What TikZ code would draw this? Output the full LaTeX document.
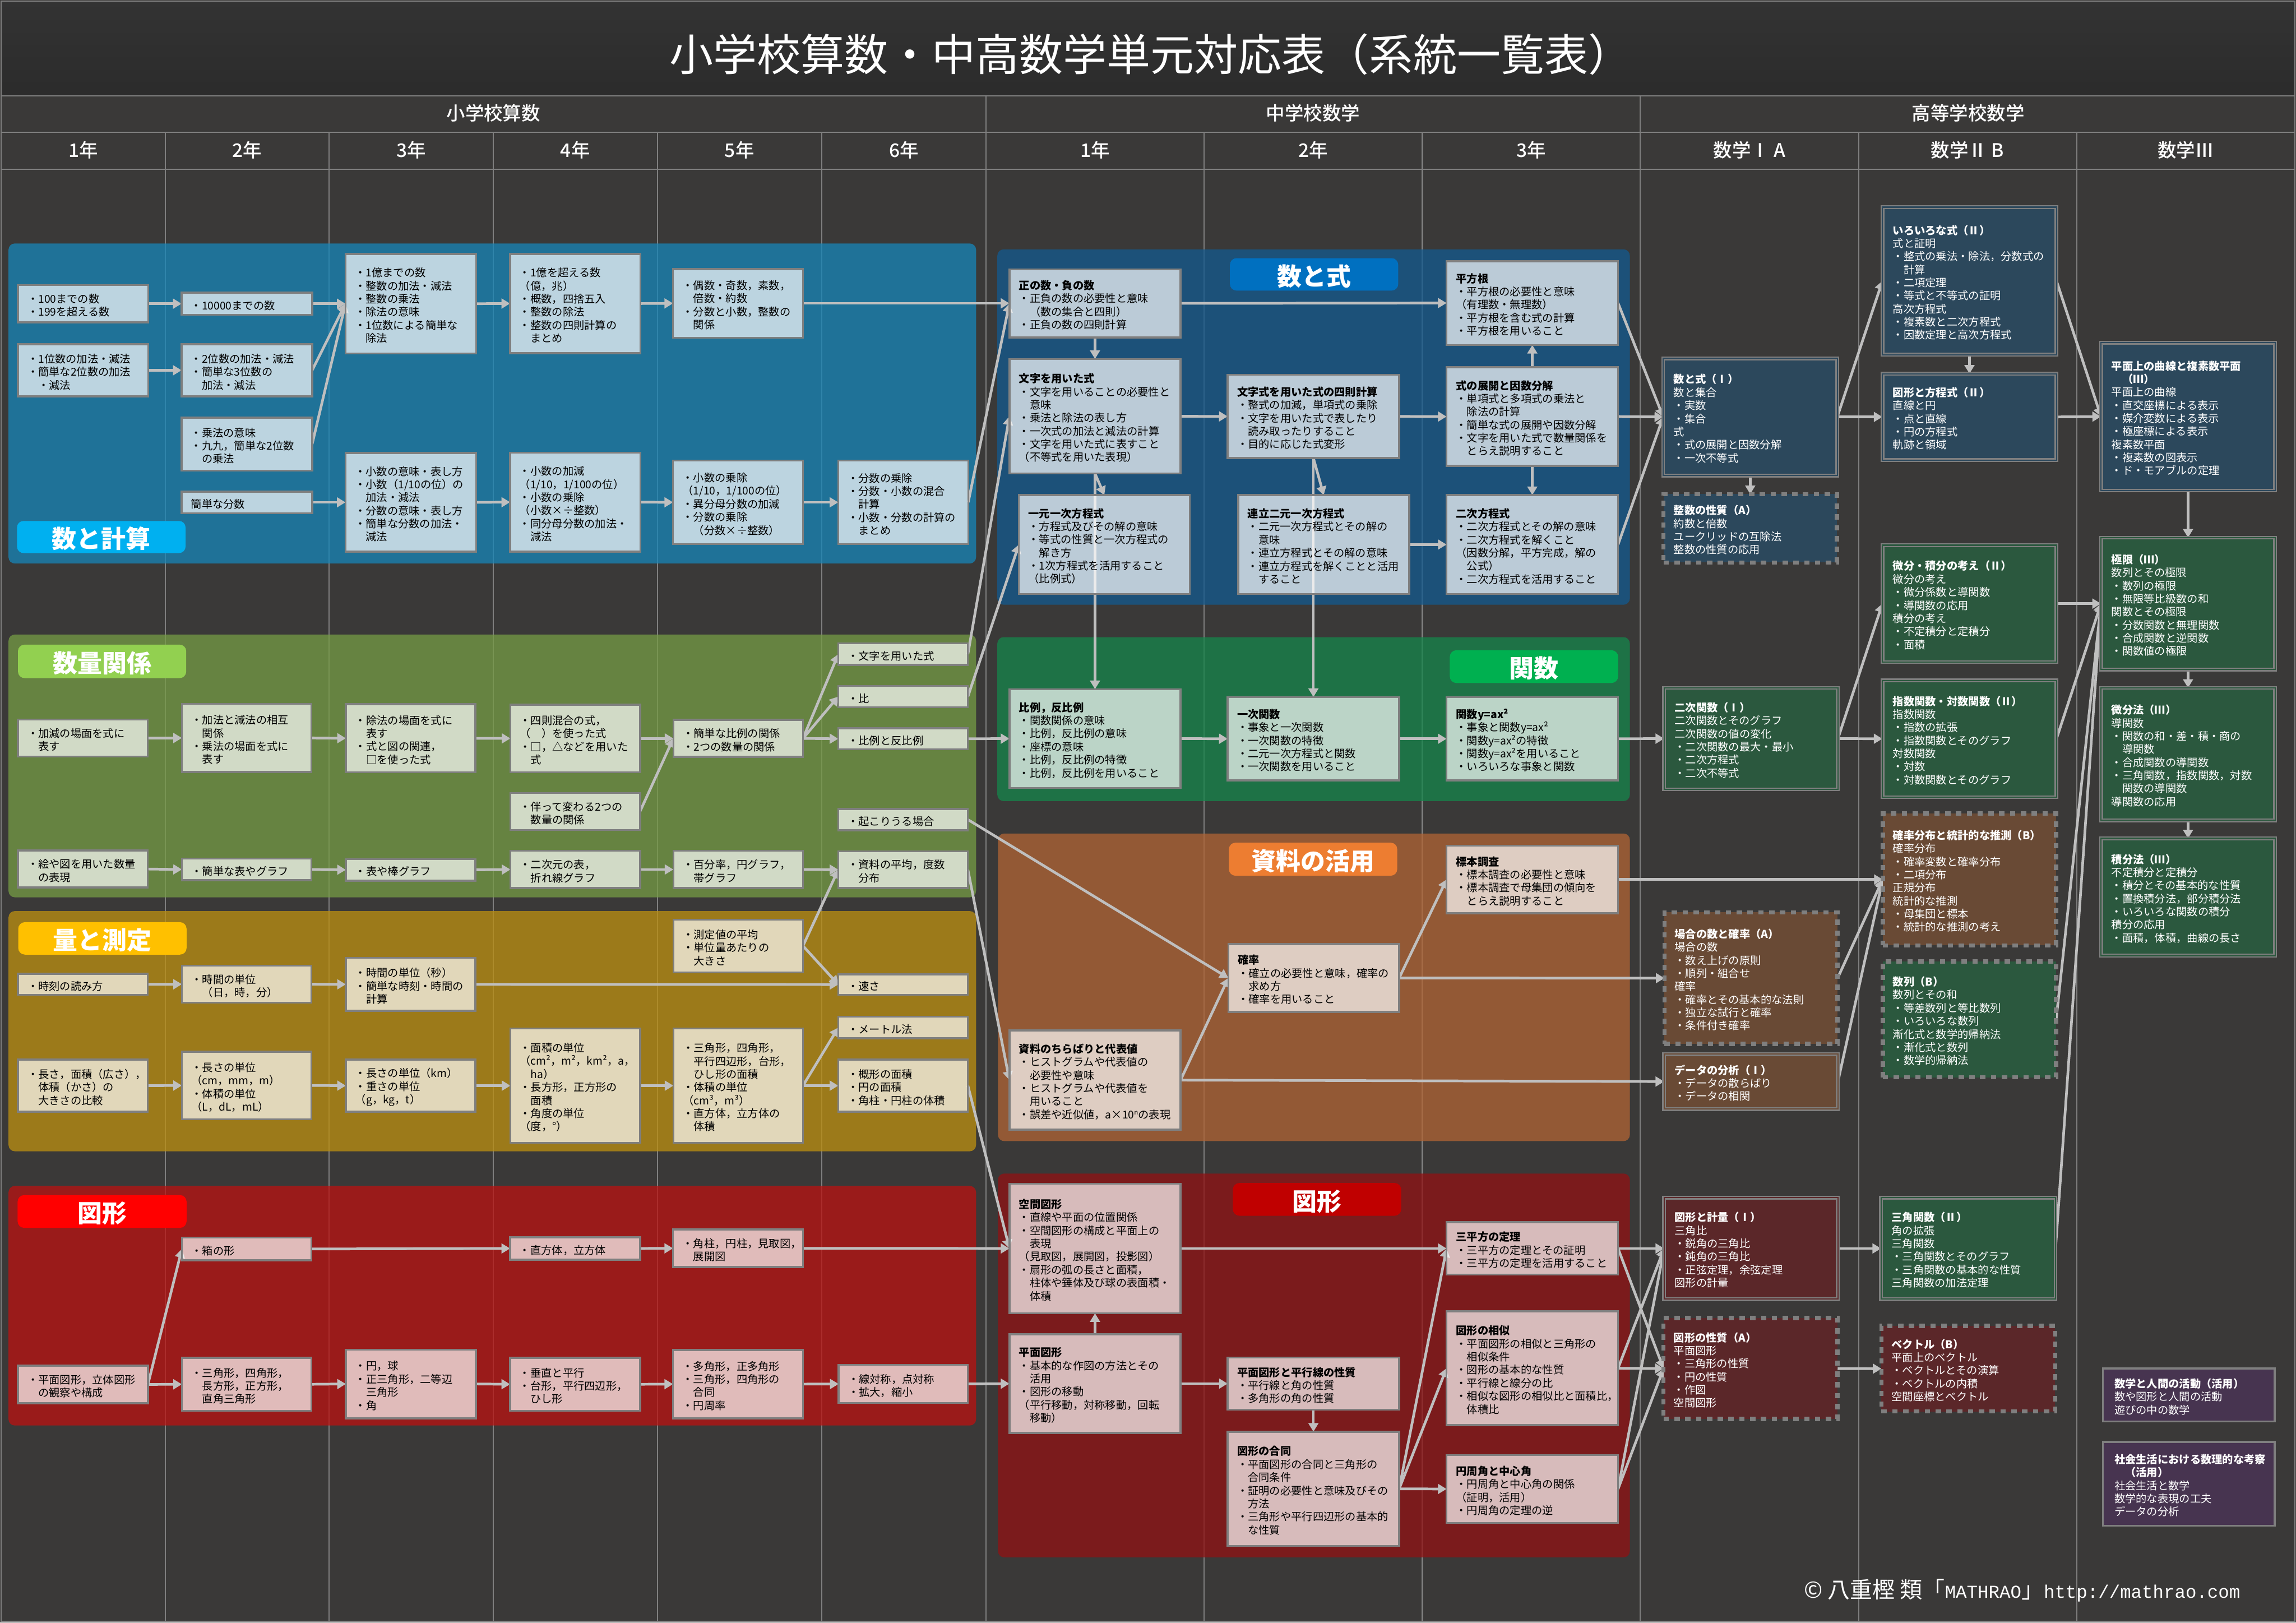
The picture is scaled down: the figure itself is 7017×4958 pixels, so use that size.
\documentclass[tikz,border=0pt]{standalone}
\usepackage{fontspec}
\usetikzlibrary{arrows.meta}
\setmainfont{Noto Sans CJK JP}
\newfontfamily\latmono{Liberation Mono}
\newfontfamily\medf{Noto Sans CJK JP Medium}
\pgfdeclarelayer{gridl}\pgfdeclarelayer{secl}\pgfdeclarelayer{arrl}
\pgfsetlayers{gridl,secl,arrl,main}
\definecolor{bgc}{RGB}{58,57,56}
\definecolor{rule}{RGB}{127,127,127}
\definecolor{arr}{RGB}{191,191,191}
\definecolor{s1}{RGB}{22,134,185}
\definecolor{s2}{RGB}{118,156,69}
\definecolor{s3}{RGB}{189,144,16}
\definecolor{s4}{RGB}{187,18,17}
\definecolor{s5}{RGB}{18,90,144}
\definecolor{s6}{RGB}{21,134,75}
\definecolor{s7}{RGB}{178,101,52}
\definecolor{s8}{RGB}{146,18,19}
\definecolor{hb}{RGB}{44,72,92}
\definecolor{hg}{RGB}{43,88,62}
\definecolor{hr}{RGB}{105,74,53}
\definecolor{hd}{RGB}{91,39,41}
\definecolor{hp}{RGB}{71,52,80}
\newcommand{\bodyf}{\fontsize{9.39pt}{11.38pt}\selectfont}
\newcommand{\hdl}[1]{\textbf{#1}}
\newcommand{\lbl}[1]{\rule{0pt}{21.4pt}#1}
\tikzset{
 x=0.01cm,y=-0.01cm,
 base/.style={rectangle,outer sep=0pt,align=left,inner ysep=0pt,font=\bodyf},
 plainb/.style={base,draw=rule,line width=1.7pt,fill=white,fill opacity=.7,text opacity=1,text=black,inner xsep=0.29cm},
 doubleb/.style={base,draw=rule,line width=1.15pt,double distance=1pt,text=white,inner xsep=0.32cm},
 dashb/.style={base,draw=rule,line width=3.7pt,dash pattern=on 4.7pt off 4.7pt,text=white,inner xsep=0.31cm},
 purb/.style={base,draw=rule,line width=1.7pt,fill=hp,text=white,inner xsep=0.35cm},
 cn/.style={draw=arr,line width=2.3pt,-{Triangle[length=7.5pt,width=8.5pt]}},
 lab/.style={rectangle,rounded corners=5.7pt,inner sep=0pt,outer sep=0pt,text=white,font=\fontsize{21.4pt}{24pt}\selectfont\bfseries},
 hdr/.style={text=white,font=\fontsize{16.3pt}{18pt}\selectfont\medf,inner sep=0pt},
 gridline/.style={draw=rule,line width=1pt},
}
% generic box: style, stroke, inset, name, x1,y1,x2,y2, text
\newcommand{\gbx}[9]{%
 \pgfmathsetmacro\mycx{(#5+#7)/2}%
 \pgfmathsetmacro\mycy{(#6+#8)/2}%
 \pgfmathsetmacro\myw{(#7-#5-#2)*0.01}%
 \pgfmathsetmacro\myh{(#8-#6-#2)*0.01}%
 \pgfmathsetmacro\mytw{(#7-#5-2*#3)*0.01}%
 \node[#1,minimum width=\myw cm,minimum height=\myh cm,text width=\mytw cm] (#4) at (\mycx,\mycy) {\rule{0pt}{10.9pt}#9};}
\begin{document}
\begin{tikzpicture}
\useasboundingbox (0,0) rectangle (7017,4958);
\begin{pgfonlayer}{gridl}
\fill[bgc] (0,0) rectangle (7017,4958);
\shade[top color=black!80,middle color=black!65,bottom color=black!83] (3,3) rectangle (7014,293);
\draw[gridline] (3,3) rectangle (7014,4955);
\draw[gridline] (3,293) -- (7014,293);
\draw[gridline] (3,405) -- (7014,405);
\draw[gridline] (3,517) -- (7014,517);
\foreach \xx in {505,1006,1508,2009,2511,3680,4347,5680,6347} \draw[gridline] (\xx,405) -- (\xx,4955);
\foreach \xx in {3013,5013} \draw[gridline] (\xx,293) -- (\xx,4955);
\end{pgfonlayer}
\node[text=white,inner sep=0pt,font=\fontsize{38pt}{42pt}\selectfont] (title) at (3517,166) {小学校算数・中高数学単元対応表（系統一覧表）};
\node[hdr] (he) at (1508,345) {小学校算数};
\node[hdr] (hm) at (4013,345) {中学校数学};
\node[hdr] (hh) at (6015,345) {高等学校数学};
\node[hdr] (y1) at (254,459) {1年};
\node[hdr] (y2) at (755,459) {2年};
\node[hdr] (y3) at (1257,459) {3年};
\node[hdr] (y4) at (1758,459) {4年};
\node[hdr] (y5) at (2260,459) {5年};
\node[hdr] (y6) at (2762,459) {6年};
\node[hdr] (y7) at (3347,459) {1年};
\node[hdr] (y8) at (4013,459) {2年};
\node[hdr] (y9) at (4680,459) {3年};
\node[hdr] (y10) at (5347,459) {数学Ⅰ A};
\node[hdr] (y11) at (6013,459) {数学Ⅱ B};
\node[hdr] (y12) at (6680,459) {数学Ⅲ};
% section backgrounds
\begin{pgfonlayer}{secl}
\fill[s1,fill opacity=.75,rounded corners=5.5pt] (26,744) rectangle (2983,1722);
\fill[s2,fill opacity=.75,rounded corners=5.5pt] (26,1939) rectangle (2983,2742);
\fill[s3,fill opacity=.75,rounded corners=5.5pt] (26,2784) rectangle (2983,3518);
\fill[s4,fill opacity=.75,rounded corners=5.5pt] (26,3624) rectangle (2983,4356);
\fill[s5,fill opacity=.75,rounded corners=5.5pt] (3048,762) rectangle (4981,1848);
\fill[s6,fill opacity=.75,rounded corners=5.5pt] (3048,1947) rectangle (4981,2448);
\fill[s7,fill opacity=.75,rounded corners=5.5pt] (3050,2547) rectangle (4981,3487);
\fill[s8,fill opacity=.75,rounded corners=5.5pt] (3050,3586) rectangle (4981,4759);
\end{pgfonlayer}
% category labels
\node[lab,fill={rgb,255:red,0;green,176;blue,240},minimum width=5.15cm,minimum height=0.98cm] (l1) at (309.5,1641) {\lbl{数と計算}};
\node[lab,fill={rgb,255:red,146;green,208;blue,80},minimum width=5.14cm,minimum height=1.02cm] (l2) at (312,2021) {\lbl{数量関係}};
\node[lab,fill={rgb,255:red,255;green,192;blue,0},minimum width=5.14cm,minimum height=0.99cm] (l3) at (313,2867.5) {\lbl{量と測定}};
\node[lab,fill={rgb,255:red,255;green,0;blue,0},minimum width=5.16cm,minimum height=1.00cm] (l4) at (312,3702) {\lbl{図形}};
\node[lab,fill={rgb,255:red,0;green,112;blue,192},minimum width=5.14cm,minimum height=0.99cm] (l5) at (4016,838.5) {\lbl{数と式}};
\node[lab,fill={rgb,255:red,0;green,176;blue,80},minimum width=5.14cm,minimum height=1.00cm] (l6) at (4688,2037) {\lbl{関数}};
\node[lab,fill={rgb,255:red,237;green,125;blue,49},minimum width=5.14cm,minimum height=1.01cm] (l7) at (4013,2625.5) {\lbl{資料の活用}};
\node[lab,fill={rgb,255:red,192;green,0;blue,0},minimum width=5.14cm,minimum height=1.00cm] (l8) at (4025,3665) {\lbl{図形}};
% elementary: number
\gbx{plainb}{6}{32}{n1a}{52}{868}{456}{988}{・100までの数\\・199を超える数}
\gbx{plainb}{6}{32}{n1b}{52}{1049}{456}{1214}{・1位数の加法・減法\\・簡単な2位数の加法\\　・減法}
\gbx{plainb}{6}{32}{n2a}{552}{891}{957}{965}{・10000までの数}
\gbx{plainb}{6}{32}{n2b}{552}{1049}{957}{1214}{・2位数の加法・減法\\・簡単な3位数の\\　加法・減法}
\gbx{plainb}{6}{32}{n2c}{552}{1273}{957}{1441}{・乗法の意味\\・九九，簡単な2位数\\　の乗法}
\gbx{plainb}{6}{32}{n2d}{552}{1499}{957}{1571}{簡単な分数}
\gbx{plainb}{6}{32}{n3a}{1053}{773}{1458}{1083}{・1億までの数\\・整数の加法・減法\\・整数の乗法\\・除法の意味\\・1位数による簡単な\\　除法}
\gbx{plainb}{6}{32}{n3b}{1053}{1381}{1458}{1689}{・小数の意味・表し方\\・小数（1/10の位）の\\　加法・減法\\・分数の意味・表し方\\・簡単な分数の加法・\\　減法}
\gbx{plainb}{6}{32}{n4a}{1556}{773}{1960}{1082}{・1億を超える数\\（億，兆）\\・概数，四捨五入\\・整数の除法\\・整数の四則計算の\\　まとめ}
\gbx{plainb}{6}{32}{n4b}{1556}{1380}{1960}{1689}{・小数の加減\\（1/10，1/100の位）\\・小数の乗除\\（小数×÷整数）\\・同分母分数の加法・\\　減法}
\gbx{plainb}{6}{32}{n5a}{2054}{819}{2457}{1035}{・偶数・奇数，素数，\\　倍数・約数\\・分数と小数，整数の\\　関係}
\gbx{plainb}{6}{32}{n5b}{2054}{1404}{2457}{1666}{・小数の乗除\\（1/10，1/100の位）\\・異分母分数の加減\\・分数の乗除\\　（分数×÷整数）}
\gbx{plainb}{6}{32}{n6b}{2559}{1404}{2962}{1666}{・分数の乗除\\・分数・小数の混合\\　計算\\・小数・分数の計算の\\　まとめ}
% elementary: relations
\gbx{plainb}{6}{32}{q1a}{52}{2196}{454}{2315}{・加減の場面を式に\\　表す}
\gbx{plainb}{6}{32}{q1b}{52}{2596}{454}{2715}{・絵や図を用いた数量\\　の表現}
\gbx{plainb}{6}{32}{q2a}{553}{2148}{955}{2362}{・加法と減法の相互\\　関係\\・乗法の場面を式に\\　表す}
\gbx{plainb}{6}{32}{q2b}{553}{2621}{955}{2693}{・簡単な表やグラフ}
\gbx{plainb}{6}{32}{q3a}{1054}{2149}{1456}{2363}{・除法の場面を式に\\　表す\\・式と図の関連，\\　□を使った式}
\gbx{plainb}{6}{32}{q3b}{1054}{2622}{1456}{2694}{・表や棒グラフ}
\gbx{plainb}{6}{32}{q4a}{1557}{2150}{1959}{2363}{・四則混合の式，\\（　）を使った式\\・□，△などを用いた\\　式}
\gbx{plainb}{6}{32}{q4b}{1557}{2420}{1959}{2539}{・伴って変わる2つの\\　数量の関係}
\gbx{plainb}{6}{32}{q4c}{1557}{2597}{1959}{2717}{・二次元の表，\\　折れ線グラフ}
\gbx{plainb}{6}{32}{q5a}{2055}{2197}{2457}{2316}{・簡単な比例の関係\\・2つの数量の関係}
\gbx{plainb}{6}{32}{q5b}{2055}{2597}{2457}{2717}{・百分率，円グラフ，\\　帯グラフ}
\gbx{plainb}{6}{32}{q6a}{2559}{1963}{2961}{2035}{・文字を用いた式}
\gbx{plainb}{6}{32}{q6b}{2559}{2093}{2961}{2164}{・比}
\gbx{plainb}{6}{32}{q6c}{2559}{2222}{2961}{2293}{・比例と反比例}
\gbx{plainb}{6}{32}{q6d}{2559}{2469}{2961}{2540}{・起こりうる場合}
\gbx{plainb}{6}{32}{q6e}{2559}{2598}{2961}{2717}{・資料の平均，度数\\　分布}
% elementary: measures
\gbx{plainb}{6}{32}{m1a}{52}{2973}{454}{3043}{・時刻の読み方}
\gbx{plainb}{6}{32}{m1b}{52}{3235}{454}{3400}{・長さ，面積（広さ），\\　体積（かさ）の\\　大きさの比較}
\gbx{plainb}{6}{32}{m2a}{553}{2948}{955}{3067}{・時間の単位\\　（日，時，分）}
\gbx{plainb}{6}{32}{m2b}{553}{3211}{955}{3423}{・長さの単位\\（cm，mm，m）\\・体積の単位\\（L，dL，mL）}
\gbx{plainb}{6}{32}{m3a}{1054}{2924}{1456}{3092}{・時間の単位（秒）\\・簡単な時刻・時間の\\　計算}
\gbx{plainb}{6}{32}{m3b}{1054}{3235}{1456}{3400}{・長さの単位（km）\\・重さの単位\\（g，kg，t）}
\gbx{plainb}{6}{32}{m4}{1557}{3140}{1959}{3495}{・面積の単位\\（cm²，m²，km²，a，\\　ha）\\・長方形，正方形の\\　面積\\・角度の単位\\（度，°）}
\gbx{plainb}{6}{32}{m5a}{2055}{2807}{2457}{2974}{・測定値の平均\\・単位量あたりの\\　大きさ}
\gbx{plainb}{6}{32}{m5b}{2055}{3140}{2457}{3495}{・三角形，四角形，\\　平行四辺形，台形，\\　ひし形の面積\\・体積の単位\\（cm³，m³）\\・直方体，立方体の\\　体積}
\gbx{plainb}{6}{32}{m6a}{2559}{2974}{2961}{3043}{・速さ}
\gbx{plainb}{6}{32}{m6b}{2559}{3104}{2961}{3176}{・メートル法}
\gbx{plainb}{6}{32}{m6c}{2559}{3235}{2961}{3400}{・概形の面積\\・円の面積\\・角柱・円柱の体積}
% elementary: figures
\gbx{plainb}{6}{32}{f1}{52}{4170}{455}{4291}{・平面図形，立体図形\\　の観察や構成}
\gbx{plainb}{6}{32}{f2a}{553}{3779}{955}{3854}{・箱の形}
\gbx{plainb}{6}{32}{f2b}{553}{4146}{955}{4314}{・三角形，四角形，\\　長方形，正方形，\\　直角三角形}
\gbx{plainb}{6}{32}{f3}{1054}{4121}{1457}{4337}{・円，球\\・正三角形，二等辺\\　三角形\\・角}
\gbx{plainb}{6}{32}{f4a}{1556}{3778}{1959}{3852}{・直方体，立方体}
\gbx{plainb}{6}{32}{f4b}{1556}{4146}{1959}{4314}{・垂直と平行\\・台形，平行四辺形，\\　ひし形}
\gbx{plainb}{6}{32}{f5a}{2054}{3754}{2457}{3875}{・角柱，円柱，見取図，\\　展開図}
\gbx{plainb}{6}{32}{f5b}{2054}{4122}{2457}{4337}{・多角形，正多角形\\・三角形，四角形の\\　合同\\・円周率}
\gbx{plainb}{6}{32}{f6}{2560}{4168}{2961}{4290}{・線対称，点対称\\・拡大，縮小}
% junior high
\gbx{plainb}{6}{32}{j1a}{3082}{820}{3611}{1034}{\hdl{正の数・負の数}\\・正負の数の必要性と意味\\　（数の集合と四則）\\・正負の数の四則計算}
\gbx{plainb}{6}{32}{j1b}{3082}{1094}{3611}{1450}{\hdl{文字を用いた式}\\・文字を用いることの必要性と\\　意味\\・乗法と除法の表し方\\・一次式の加法と減法の計算\\・文字を用いた式に表すこと\\（不等式を用いた表現）}
\gbx{plainb}{6}{32}{j1c}{3111}{1510}{3639}{1818}{\hdl{一元一次方程式}\\・方程式及びその解の意味\\・等式の性質と一次方程式の\\　解き方\\・1次方程式を活用すること\\（比例式）}
\gbx{plainb}{6}{32}{j2a}{3749}{1142}{4279}{1403}{\hdl{文字式を用いた式の四則計算}\\・整式の加減，単項式の乗除\\・文字を用いた式で表したり\\　読み取ったりすること\\・目的に応じた式変形}
\gbx{plainb}{6}{32}{j2b}{3781}{1510}{4310}{1818}{\hdl{連立二元一次方程式}\\・二元一次方程式とその解の\\　意味\\・連立方程式とその解の意味\\・連立方程式を解くことと活用\\　すること}
\gbx{plainb}{6}{32}{j3a}{4418}{795}{4948}{1057}{\hdl{平方根}\\・平方根の必要性と意味\\（有理数・無理数）\\・平方根を含む式の計算\\・平方根を用いること}
\gbx{plainb}{6}{32}{j3b}{4418}{1119}{4948}{1427}{\hdl{式の展開と因数分解}\\・単項式と多項式の乗法と\\　除法の計算\\・簡単な式の展開や因数分解\\・文字を用いた式で数量関係を\\　とらえ説明すること}
\gbx{plainb}{6}{32}{j3c}{4418}{1510}{4948}{1818}{\hdl{二次方程式}\\・二次方程式とその解の意味\\・二次方程式を解くこと\\（因数分解，平方完成，解の\\　公式）\\・二次方程式を活用すること}
\gbx{plainb}{6}{32}{k1}{3082}{2103}{3611}{2411}{\hdl{比例，反比例}\\・関数関係の意味\\・比例，反比例の意味\\・座標の意味\\・比例，反比例の特徴\\・比例，反比例を用いること}
\gbx{plainb}{6}{32}{k2}{3749}{2127}{4279}{2388}{\hdl{一次関数}\\・事象と一次関数\\・一次関数の特徴\\・二元一次方程式と関数\\・一次関数を用いること}
\gbx{plainb}{6}{32}{k3}{4418}{2127}{4948}{2388}{\hdl{関数y=ax²}\\・事象と関数y=ax²\\・関数y=ax²の特徴\\・関数y=ax²を用いること\\・いろいろな事象と関数}
\gbx{plainb}{6}{32}{s1}{3082}{3146}{3611}{3455}{\hdl{資料のちらばりと代表値}\\・ヒストグラムや代表値の\\　必要性や意味\\・ヒストグラムや代表値を\\　用いること\\・誤差や近似値，a×10\raisebox{3.2pt}{\fontsize{5.6pt}{6pt}\selectfont n}の表現}
\gbx{plainb}{6}{32}{s2}{3751}{2882}{4279}{3095}{\hdl{確率}\\・確立の必要性と意味，確率の\\　求め方\\・確率を用いること}
\gbx{plainb}{6}{32}{s3}{4418}{2581}{4948}{2794}{\hdl{標本調査}\\・標本調査の必要性と意味\\・標本調査で母集団の傾向を\\　とらえ説明すること}
\gbx{plainb}{6}{32}{g1a}{3082}{3614}{3611}{4016}{\hdl{空間図形}\\・直線や平面の位置関係\\・空間図形の構成と平面上の\\　表現\\（見取図，展開図，投影図）\\・扇形の弧の長さと面積，\\　柱体や錘体及び球の表面積・\\　体積}
\gbx{plainb}{6}{32}{g1b}{3082}{4074}{3611}{4382}{\hdl{平面図形}\\・基本的な作図の方法とその\\　活用\\・図形の移動\\（平行移動，対称移動，回転\\　移動）}
\gbx{plainb}{6}{32}{g2a}{3749}{4145}{4279}{4311}{\hdl{平面図形と平行線の性質}\\・平行線と角の性質\\・多角形の角の性質}
\gbx{plainb}{6}{32}{g2b}{3749}{4372}{4279}{4727}{\hdl{図形の合同}\\・平面図形の合同と三角形の\\　合同条件\\・証明の必要性と意味及びその\\　方法\\・三角形や平行四辺形の基本的\\　な性質}
\gbx{plainb}{6}{32}{g3a}{4418}{3732}{4948}{3898}{\hdl{三平方の定理}\\・三平方の定理とその証明\\・三平方の定理を活用すること}
\gbx{plainb}{6}{32}{g3b}{4418}{4004}{4948}{4358}{\hdl{図形の相似}\\・平面図形の相似と三角形の\\　相似条件\\・図形の基本的な性質\\・平行線と線分の比\\・相似な図形の相似比と面積比，\\　体積比}
\gbx{plainb}{6}{32}{g3c}{4418}{4443}{4948}{4657}{\hdl{円周角と中心角}\\・円周角と中心角の関係\\（証明，活用）\\・円周角の定理の逆}
% high school
\gbx{doubleb,fill=hb,double=hb}{12}{38}{h1a}{5077}{1089}{5621}{1459}{\hdl{数と式（Ⅰ）}\\数と集合\\・実数\\・集合\\式\\・式の展開と因数分解\\・一次不等式}
\gbx{dashb,fill=hb}{14}{38}{h1b}{5077}{1503}{5621}{1726}{\hdl{整数の性質（A）}\\約数と倍数\\ユークリッドの互除法\\整数の性質の応用}
\gbx{doubleb,fill=hb,double=hb}{12}{38}{h2a}{5747}{627}{6291}{1090}{\hdl{いろいろな式（Ⅱ）}\\式と証明\\・整式の乗法・除法，分数式の\\　計算\\・二項定理\\・等式と不等式の証明\\高次方程式\\・複素数と二次方程式\\・因数定理と高次方程式}
\gbx{doubleb,fill=hb,double=hb}{12}{38}{h2b}{5747}{1136}{6291}{1412}{\hdl{図形と方程式（Ⅱ）}\\直線と円\\・点と直線\\・円の方程式\\軌跡と領域}
\gbx{doubleb,fill=hb,double=hb}{12}{38}{h3a}{6415}{1041}{6959}{1505}{\hdl{平面上の曲線と複素数平面}\\\hdl{　（Ⅲ）}\\平面上の曲線\\・直交座標による表示\\・媒介変数による表示\\・極座標による表示\\複素数平面\\・複素数の図表示\\・ド・モアブルの定理}
\gbx{doubleb,fill=hg,double=hg}{12}{38}{h2c}{5747}{1660}{6291}{2029}{\hdl{微分・積分の考え（Ⅱ）}\\微分の考え\\・微分係数と導関数\\・導関数の応用\\積分の考え\\・不定積分と定積分\\・面積}
\gbx{doubleb,fill=hg,double=hg}{12}{38}{h2d}{5747}{2073}{6291}{2442}{\hdl{指数関数・対数関数（Ⅱ）}\\指数関数\\・指数の拡張\\・指数関数とそのグラフ\\対数関数\\・対数\\・対数関数とそのグラフ}
\gbx{dashb,fill=hr}{14}{38}{h2e}{5747}{2479}{6291}{2896}{\hdl{確率分布と統計的な推測（B）}\\確率分布\\・確率変数と確率分布\\・二項分布\\正規分布\\統計的な推測\\・母集団と標本\\・統計的な推測の考え}
\gbx{doubleb,fill=hg,double=hg}{12}{38}{h3b}{6415}{1637}{6959}{2052}{\hdl{極限（Ⅲ）}\\数列とその極限\\・数列の極限\\・無限等比級数の和\\関数とその極限\\・分数関数と無理関数\\・合成関数と逆関数\\・関数値の極限}
\gbx{doubleb,fill=hg,double=hg}{12}{38}{h3c}{6415}{2096}{6959}{2513}{\hdl{微分法（Ⅲ）}\\導関数\\・関数の和・差・積・商の\\　導関数\\・合成関数の導関数\\・三角関数，指数関数，対数\\　関数の導関数\\導関数の応用}
\gbx{doubleb,fill=hg,double=hg}{12}{38}{h3d}{6415}{2556}{6959}{2926}{\hdl{積分法（Ⅲ）}\\不定積分と定積分\\・積分とその基本的な性質\\・置換積分法，部分積分法\\・いろいろな関数の積分\\積分の応用\\・面積，体積，曲線の長さ}
\gbx{doubleb,fill=hg,double=hg}{12}{38}{h1c}{5080}{2096}{5623}{2418}{\hdl{二次関数（Ⅰ）}\\二次関数とそのグラフ\\二次関数の値の変化\\・二次関数の最大・最小\\・二次方程式\\・二次不等式}
\gbx{dashb,fill=hr}{14}{38}{h1d}{5080}{2781}{5623}{3197}{\hdl{場合の数と確率（A）}\\場合の数\\・数え上げの原則\\・順列・組合せ\\確率\\・確率とその基本的な法則\\・独立な試行と確率\\・条件付き確率}
\gbx{doubleb,fill=hr,double=hr}{12}{38}{h1e}{5080}{3215}{5623}{3395}{\hdl{データの分析（Ⅰ）}\\・データの散らばり\\・データの相関}
\gbx{dashb,fill=hg}{14}{38}{h2f}{5747}{2931}{6291}{3299}{\hdl{数列（B）}\\数列とその和\\・等差数列と等比数列\\・いろいろな数列\\漸化式と数学的帰納法\\・漸化式と数列\\・数学的帰納法}
\gbx{doubleb,fill=hd,double=hd}{12}{38}{h1f}{5080}{3654}{5623}{3976}{\hdl{図形と計量（Ⅰ）}\\三角比\\・鋭角の三角比\\・鈍角の三角比\\・正弦定理，余弦定理\\図形の計量}
\gbx{doubleb,fill=hg,double=hg}{12}{38}{h2g}{5743}{3654}{6288}{3976}{\hdl{三角関数（Ⅱ）}\\角の拡張\\三角関数\\・三角関数とそのグラフ\\・三角関数の基本的な性質\\三角関数の加法定理}
\gbx{dashb,fill=hd}{14}{38}{h1g}{5077}{4021}{5623}{4343}{\hdl{図形の性質（A）}\\平面図形\\・三角形の性質\\・円の性質\\・作図\\空間図形}
\gbx{dashb,fill=hd}{14}{38}{h2h}{5743}{4045}{6288}{4320}{\hdl{ベクトル（B）}\\平面上のベクトル\\・ベクトルとその演算\\・ベクトルの内積\\空間座標とベクトル}
\gbx{purb}{6}{38}{p1}{6424}{4179}{6955}{4347}{\hdl{数学と人間の活動（活用）}\\数や図形と人間の活動\\遊びの中の数学}
\gbx{purb}{6}{38}{p2}{6424}{4403}{6955}{4665}{\hdl{社会生活における数理的な考察}\\\hdl{　（活用）}\\社会生活と数学\\数学的な表現の工夫\\データの分析}
\node[anchor=east,text=white,inner sep=0pt,font=\fontsize{19.5pt}{22pt}\selectfont] (copy) at (6847,4860) {© 八重樫 類「{\fontsize{15.8pt}{20pt}\latmono MATHRAO}」{\fontsize{15.8pt}{20pt}\latmono http://mathrao.com}};
% connectors
\begin{pgfonlayer}{arrl}
\foreach \a/\b in {n1a/n2a,n1b/n2b,n2a/n3a,n2b/n3a,n2c/n3a,n2d/n3b,n3a/n4a,n3b/n4b,n4a/n5a,n4b/n5b,n5b/n6b,n5a/j1a,n6b/j1a,q6a/j1b,q6b/j1c,q6c/k1,q6d/s2,q6e/s1,m6c/g1a,f5a/g1a,f6/g1b,
 q1a/q2a,q2a/q3a,q3a/q4a,q4a/q5a,q4b/q5a,q5a/q6a,q5a/q6b,q5a/q6c,q1b/q2b,q2b/q3b,q3b/q4c,q4c/q5b,q5b/q6e,m5a/q6e,m5a/m6a,m3a/m6a,m1a/m2a,m2a/m3a,m1b/m2b,m2b/m3b,m3b/m4,m4/m5b,m5b/m6b,m5b/m6c,
 f1/f2a,f1/f2b,f2b/f3,f3/f4b,f4b/f5b,f5b/f6,f2a/f4a,f4a/f5a,
 j1a/j3a,j1b/j2a,j2a/j3b,j2b/j3c,k1/k2,k2/k3,j3a/h1a,j3b/h1a,j3c/h1a,k3/h1c,s3/h2e,s2/h1d,s1/h1e,s2/s3,s1/s2,
 g1a/g3a,g1b/g2a,g2b/g3a,g2b/g3b,g2b/g3c,g3a/h1f,g3a/h1g,g3b/h1f,g3b/h1g,g3c/h1f,g3c/h1g,
 h1a/h2a,h1a/h2b,h2a/h3a,h2b/h3a,h1c/h2c,h1c/h2d,h2c/h3b,h2d/h3b,h1d/h2e,h1e/h2e,h2f/h3b,h2g/h3b,h1f/h2g,h1g/h2h}
 \draw[cn] (\a.east) -- (\b.west);
\foreach \a/\b in {j1a/j1b,j1b/j1c,j1b/k1,j2a/j2b,j2a/k2,j3b/j3c,g2a/g2b,h1a/h1b,h2a/h2b,h3a/h3b,h3b/h3c,h3c/h3d}
 \draw[cn] (\a.south) -- (\b.north);
\foreach \a/\b in {j3b/j3a,g1b/g1a}
 \draw[cn] (\a.north) -- (\b.south);
\end{pgfonlayer}
\end{tikzpicture}
\end{document}
